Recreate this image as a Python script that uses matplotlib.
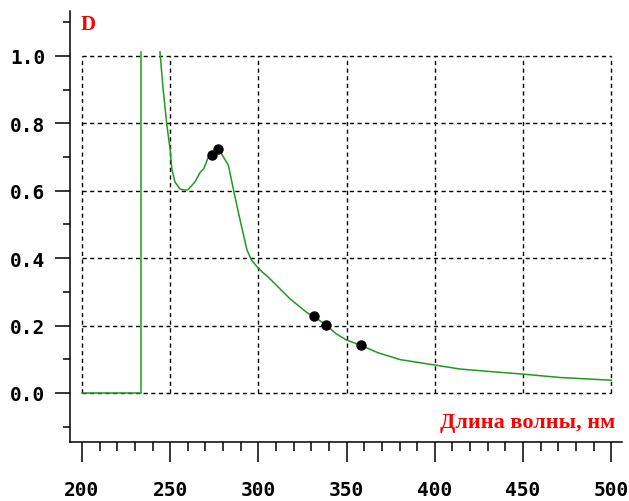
## modules
import numpy as np
import matplotlib
matplotlib.use("Agg")
import matplotlib.pyplot as plt

## data
## flat part + vertical jump (off scale above 1.0)
wl_left = [200, 233.5, 233.5]
d_left = [0.0, 0.0, 1.012]

## main absorption curve
wl_curve = [244.2, 246.0, 248.0, 250.0, 250.9, 252.7, 255.6, 258.0, 260.0, 264.0,
            267.0, 269.0, 271.6, 273.5, 277.0, 279.2, 283.0, 285.8, 288.6, 291.5,
            293.5, 296.0, 299.0, 302.0, 305.5, 308.6, 318.0, 327.4, 331.6, 338.4,
            344.0, 350.0, 358.3, 368.0, 380.4, 400.0, 414.4, 433.0, 450.0, 471.0,
            500.0]
d_curve = [1.012, 0.90, 0.80, 0.72, 0.665, 0.626, 0.605, 0.602, 0.603, 0.626,
           0.655, 0.665, 0.700, 0.707, 0.725, 0.709, 0.675, 0.605, 0.537, 0.470,
           0.425, 0.395, 0.376, 0.360, 0.344, 0.328, 0.279, 0.239, 0.226, 0.202,
           0.176, 0.157, 0.141, 0.119, 0.099, 0.083, 0.071, 0.063, 0.056, 0.046,
           0.038]

## marked points
wl_dots = [273.5, 277.0, 331.6, 338.4, 358.3]
d_dots = [0.707, 0.725, 0.227, 0.202, 0.141]

x_major = [200, 250, 300, 350, 400, 450, 500]
y_major = [0.0, 0.2, 0.4, 0.6, 0.8, 1.0]
y_labels = ["0.0", "0.2", "0.4", "0.6", "0.8", "1.0"]

## figure
fig = plt.figure(figsize=(6.29, 5.02), dpi=100)
ax = fig.add_axes([70/629, 59/502, 552/629, 431/502])
ax.set_xlim(193.2, 506.1)
ax.set_ylim(-0.1454, 1.1335)

## dashed grid only inside the data box
dash = (0, (3, 2.5))
ax.vlines(x_major, 0, 1.0, colors="black", linestyles=dash, linewidth=1.0, zorder=1)
ax.hlines(y_major, 200, 500, colors="black", linestyles=dash, linewidth=1.0, zorder=1)

## curve
green = "#1f9a1f"
ax.plot(wl_left, d_left, color=green, linewidth=1.1, zorder=3)
ax.plot(wl_curve, d_curve, color=green, linewidth=1.1, zorder=3)
ax.plot(wl_dots, d_dots, "o", color="black", markersize=6.5, zorder=4)

## spines
for side in ["top", "right"]:
    ax.spines[side].set_visible(False)
for side in ["left", "bottom"]:
    ax.spines[side].set_linewidth(1.1)

## ticks
ax.set_xticks(x_major)
ax.set_xticks(np.arange(200, 501, 10), minor=True)
ax.set_yticks(y_major)
ax.set_yticklabels(y_labels)
ax.set_yticks(np.arange(-0.1, 1.15, 0.2), minor=True)
ax.tick_params(axis="x", which="major", direction="out", length=14.4, width=1.1, pad=13)
ax.tick_params(axis="x", which="minor", direction="out", length=6.5, width=1.1)
ax.tick_params(axis="y", which="major", direction="out", length=10.8, width=1.1, pad=7)
ax.tick_params(axis="y", which="minor", direction="out", length=5, width=1.1)
for lab in ax.get_xticklabels() + ax.get_yticklabels():
    lab.set_fontfamily("DejaVu Sans Mono")
    lab.set_fontweight("bold")
    lab.set_fontsize(14)

## labels
ax.text(199.4, 1.095, "D", color="red", fontsize=15, fontweight="bold",
        family="Liberation Serif", ha="left", va="center")
ax.text(502.3, -0.086, "Длина волны, нм", color="red", fontsize=16, fontweight="bold",
        family="Liberation Serif", ha="right", va="center")

fig.savefig("out.png", dpi=100)
